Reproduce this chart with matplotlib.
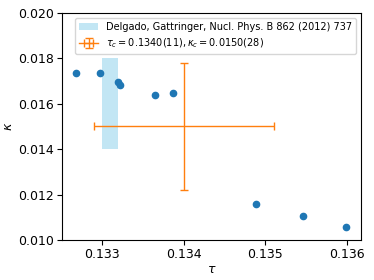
import numpy as np
import matplotlib
matplotlib.use("Agg")
import matplotlib.pyplot as plt

# data
tau = [0.132676, 0.132980, 0.133195, 0.133216, 0.133651, 0.133874, 0.134883, 0.135456, 0.135984]
kappa = [0.017345, 0.017372, 0.016947, 0.016827, 0.016385, 0.016460, 0.011593, 0.011044, 0.010588]

# critical point estimate
tau_c, tau_c_err = 0.1340, 0.0011
kappa_c, kappa_c_err = 0.0150, 0.0028

# literature band
band_tau = [0.1330, 0.1332]
band_kappa = [0.014, 0.018]
band_label = "Delgado, Gattringer, Nucl. Phys. B 862 (2012) 737"

fig = plt.figure(figsize=(3.74, 2.8), dpi=100)
ax = fig.add_axes([0.166, 0.143, 0.799, 0.811])

ax.plot(tau, kappa, "o", color="C0", markersize=4.5)
ax.fill_between(band_tau, band_kappa[0], band_kappa[1], color="skyblue", alpha=0.5,
                linewidth=0, label=band_label)
ax.errorbar(tau_c, kappa_c, xerr=tau_c_err, yerr=kappa_c_err, color="C1", capsize=3,
            linewidth=1, label=r"$\tau_c = 0.1340(11), \kappa_c = 0.0150(28)$")

ax.set_xlim(0.13251, 0.13617)
ax.set_ylim(0.010, 0.020)
ax.set_xticks([0.133, 0.134, 0.135, 0.136])
ax.set_yticks([0.010, 0.012, 0.014, 0.016, 0.018, 0.020])
ax.tick_params(labelsize=9, pad=2.5)
ax.set_xlabel(r"$\tau$", fontsize=9, labelpad=1)
ax.set_ylabel(r"$\kappa$", fontsize=9, labelpad=2)
ax.legend(fontsize=7, loc="upper right")

fig.savefig("out.png", dpi=100)
